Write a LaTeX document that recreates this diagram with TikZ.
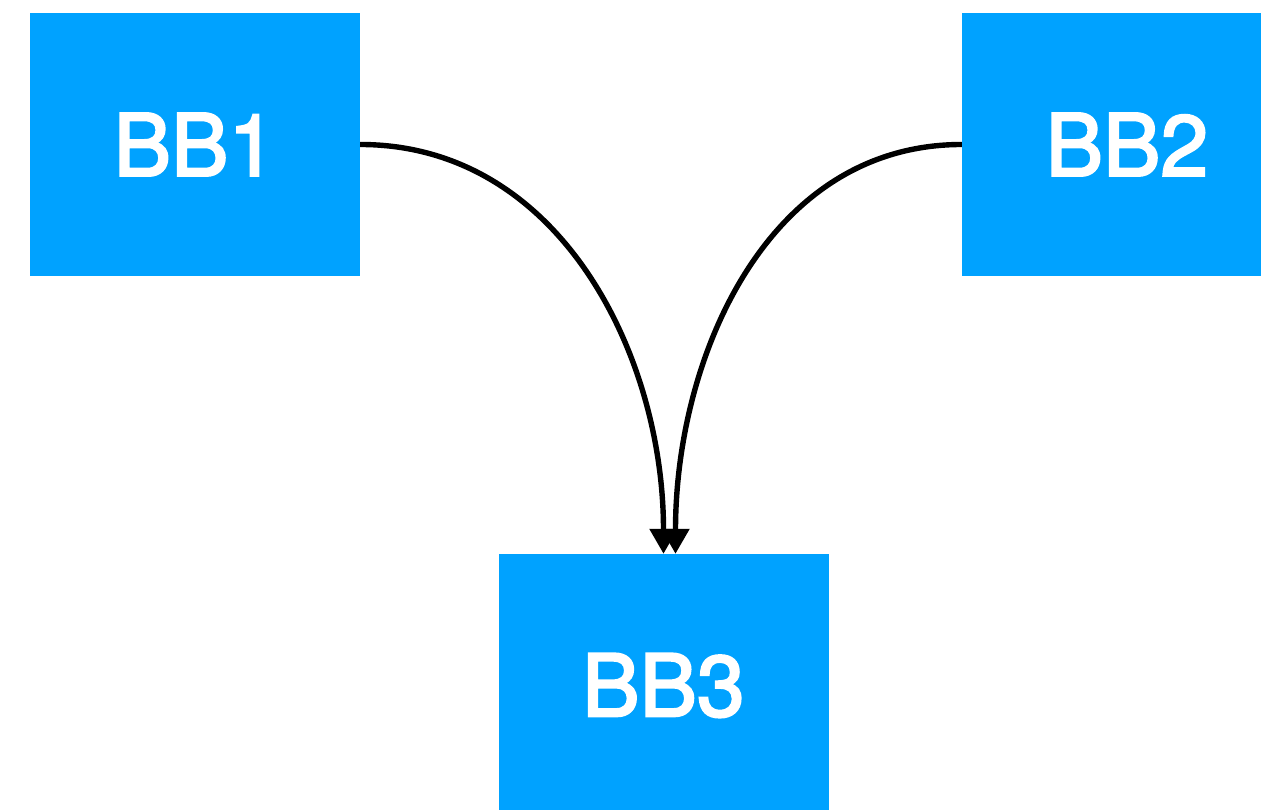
\documentclass[tikz,border=0pt]{standalone}
\usepackage{fontspec}
\setmainfont{TeX Gyre Heros}
\newfontfamily\labelfont{TeX Gyre Heros}[FakeBold=2.6]
\usetikzlibrary{arrows.meta}
\definecolor{bbblue}{RGB}{0,162,255}
\begin{document}
\begin{tikzpicture}[x=1pt,y=1pt,
  block/.style={fill=bbblue, draw=none, minimum width=330pt, minimum height=263pt,
    inner sep=0pt, text=white, font=\labelfont\fontsize{86}{86}\selectfont},
  flow/.style={line width=5.4pt, -{Triangle[length=25pt,width=27pt]}}]
  \useasboundingbox (0,0) rectangle (1261,810);
  \clip (0,0) rectangle (1261,810);
  \node[block] (bb1) at (195,665.5) {BB1};
  \node[block] (bb2) at (1127,665.5) {BB2};
  \node[block] (bb3) at (663.5,124.5) {BB3};
  \draw[flow] (bb1.east) to[out=0,in=90] (bb3.north);
  \draw[flow] (bb2.west) to[out=180,in=90] ([xshift=12pt]bb3.north);
\end{tikzpicture}
\end{document}
